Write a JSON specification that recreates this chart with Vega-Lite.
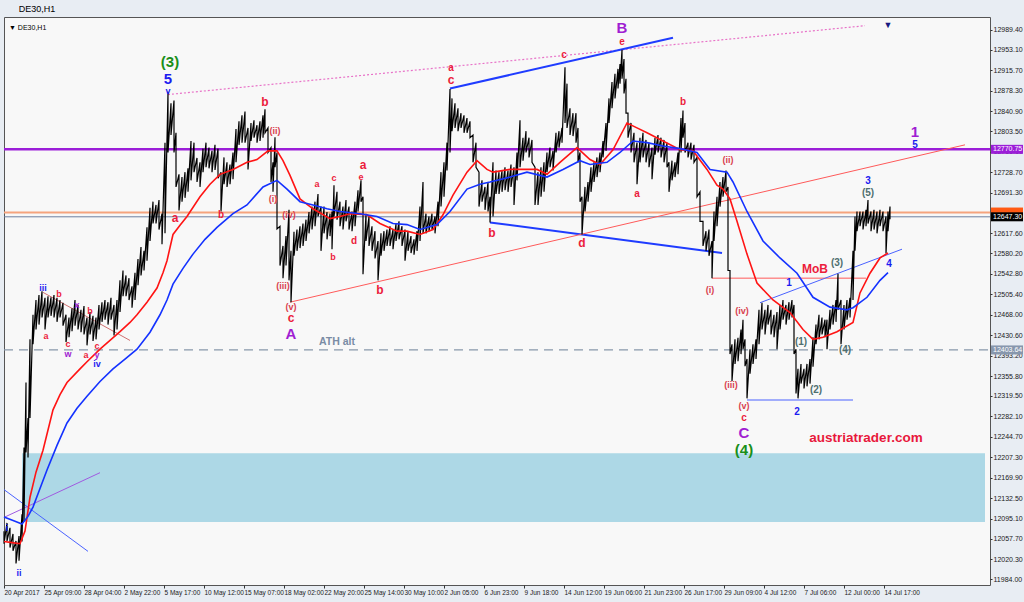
{
"$schema":"https://vega.github.io/schema/vega-lite/v6.json",
"width":986,"height":568,
"autosize":{"type":"none"},
"padding":{"left":4,"top":17,"right":34,"bottom":17},
"background":"#e8edf3",
"title":{"text":"DE30,H1","anchor":"start","dx":18,"offset":3,"fontSize":9,"font":"Liberation Sans","fontWeight":"normal","color":"#000000"},
"config":{"view":{"fill":"#f8f8f8","stroke":"#555555","strokeWidth":1},"axis":{"grid":false,"domain":false,"labelFont":"Liberation Sans","labelColor":"#1a1a1a","tickColor":"#333333"}},
"resolve":{"scale":{"color":"independent"}},
"datasets":{
"zone":[{"t":22,"t2":985,"p":12214.5,"p2":12088.6}],
"levels":[
{"kind":"ath","p":12403.64,"t":4,"t2":990},
{"kind":"res","p":12770.75,"t":4,"t2":990},
{"kind":"ask","p":12655,"t":4,"t2":990},
{"kind":"bid","p":12647.3,"t":4,"t2":990}],
"segs":[
{"kind":"dot","t":168,"p":12871,"t2":865,"p2":12997},
{"kind":"blueThick","t":450,"p":12882,"t2":673,"p2":12975},
{"kind":"blueThick","t":490,"p":12637,"t2":722,"p2":12581},
{"kind":"redThin","t":290,"p":12491,"t2":965,"p2":12779},
{"kind":"redThin","t":712,"p":12535,"t2":866,"p2":12535},
{"kind":"blueThin","t":760,"p":12490,"t2":902,"p2":12588},
{"kind":"blueThin","t":747,"p":12312,"t2":853,"p2":12312},
{"kind":"blueThin","t":4,"p":12148,"t2":88,"p2":12035},
{"kind":"purpleThin","t":5,"p":12098,"t2":100,"p2":12179},
{"kind":"brown","t":43,"p":12509,"t2":130,"p2":12421}],
"red":[{"t":4,"p":12053},{"t":12,"p":12051},{"t":20,"p":12049},{"t":25,"p":12072},{"t":30,"p":12134},{"t":36,"p":12180},{"t":43,"p":12220},{"t":53,"p":12294},{"t":60,"p":12322},{"t":67,"p":12344},{"t":80,"p":12369},{"t":87,"p":12382},{"t":100,"p":12405},{"t":110,"p":12421},{"t":120,"p":12437},{"t":130,"p":12454},{"t":137,"p":12468},{"t":147,"p":12491},{"t":157,"p":12517},{"t":163,"p":12545},{"t":167,"p":12567},{"t":173,"p":12615},{"t":180,"p":12632},{"t":187,"p":12648},{"t":200,"p":12684},{"t":210,"p":12707},{"t":220,"p":12725},{"t":233,"p":12734},{"t":247,"p":12747},{"t":257,"p":12752},{"t":268,"p":12768},{"t":277,"p":12768},{"t":283,"p":12750},{"t":290,"p":12723},{"t":300,"p":12680},{"t":313,"p":12662},{"t":330,"p":12644},{"t":340,"p":12648},{"t":350,"p":12653},{"t":367,"p":12651},{"t":380,"p":12635},{"t":397,"p":12621},{"t":407,"p":12621},{"t":420,"p":12615},{"t":433,"p":12624},{"t":443,"p":12651},{"t":453,"p":12687},{"t":467,"p":12729},{"t":477,"p":12750},{"t":487,"p":12734},{"t":493,"p":12729},{"t":510,"p":12734},{"t":527,"p":12734},{"t":537,"p":12734},{"t":547,"p":12725},{"t":560,"p":12747},{"t":577,"p":12774},{"t":590,"p":12752},{"t":600,"p":12743},{"t":613,"p":12770},{"t":627,"p":12819},{"t":637,"p":12810},{"t":647,"p":12801},{"t":663,"p":12786},{"t":680,"p":12770},{"t":693,"p":12768},{"t":707,"p":12734},{"t":717,"p":12705},{"t":723,"p":12698},{"t":730,"p":12680},{"t":737,"p":12639},{"t":747,"p":12579},{"t":757,"p":12526},{"t":773,"p":12495},{"t":790,"p":12472},{"t":803,"p":12441},{"t":813,"p":12423},{"t":823,"p":12427},{"t":837,"p":12437},{"t":853,"p":12454},{"t":860,"p":12508},{"t":870,"p":12544},{"t":880,"p":12572},{"t":888,"p":12581}],
"blue":[{"t":4,"p":12098},{"t":15,"p":12090},{"t":22,"p":12085},{"t":28,"p":12099},{"t":33,"p":12116},{"t":40,"p":12150},{"t":47,"p":12184},{"t":57,"p":12229},{"t":67,"p":12270},{"t":77,"p":12297},{"t":87,"p":12319},{"t":100,"p":12346},{"t":113,"p":12369},{"t":125,"p":12387},{"t":137,"p":12405},{"t":150,"p":12436},{"t":160,"p":12468},{"t":167,"p":12495},{"t":173,"p":12524},{"t":183,"p":12553},{"t":193,"p":12579},{"t":205,"p":12606},{"t":217,"p":12628},{"t":233,"p":12653},{"t":247,"p":12669},{"t":263,"p":12702},{"t":277,"p":12714},{"t":287,"p":12698},{"t":300,"p":12675},{"t":313,"p":12669},{"t":327,"p":12662},{"t":340,"p":12657},{"t":360,"p":12653},{"t":377,"p":12648},{"t":393,"p":12635},{"t":407,"p":12633},{"t":420,"p":12624},{"t":437,"p":12633},{"t":450,"p":12657},{"t":467,"p":12698},{"t":480,"p":12707},{"t":490,"p":12711},{"t":510,"p":12720},{"t":527,"p":12729},{"t":547,"p":12720},{"t":563,"p":12734},{"t":580,"p":12750},{"t":590,"p":12743},{"t":607,"p":12747},{"t":620,"p":12765},{"t":633,"p":12786},{"t":647,"p":12783},{"t":663,"p":12777},{"t":680,"p":12772},{"t":697,"p":12765},{"t":710,"p":12734},{"t":727,"p":12729},{"t":733,"p":12711},{"t":747,"p":12657},{"t":763,"p":12603},{"t":780,"p":12572},{"t":797,"p":12544},{"t":813,"p":12500},{"t":830,"p":12482},{"t":847,"p":12477},{"t":853,"p":12481},{"t":867,"p":12500},{"t":880,"p":12531},{"t":888,"p":12545}],
"bars":[
{"t":4,"h":12072,"l":12049},{"t":7,"h":12087,"l":12054},{"t":10,"h":12078,"l":12042},{"t":13,"h":12067,"l":12036},{"t":16,"h":12054,"l":12013},{"t":19,"h":12063,"l":12018},{"t":22,"h":12103,"l":12053},{"t":24,"h":12225,"l":12090},{"t":26,"h":12344,"l":12216},{"t":28,"h":12279,"l":12207},{"t":30,"h":12423,"l":12279},{"t":33,"h":12468,"l":12414},{"t":36,"h":12495,"l":12441},{"t":39,"h":12504,"l":12450},{"t":42,"h":12511,"l":12463},
{"t":45,"h":12499,"l":12441},{"t":48,"h":12502,"l":12463},{"t":51,"h":12500,"l":12466},{"t":54,"h":12504,"l":12463},{"t":57,"h":12499,"l":12455},{"t":60,"h":12495,"l":12463},{"t":63,"h":12490,"l":12448},{"t":66,"h":12468,"l":12418},{"t":69,"h":12463,"l":12427},{"t":72,"h":12480,"l":12438},{"t":75,"h":12495,"l":12448},{"t":78,"h":12486,"l":12441},{"t":81,"h":12477,"l":12436},{"t":84,"h":12484,"l":12432},{"t":87,"h":12463,"l":12412},{"t":90,"h":12473,"l":12432},{"t":93,"h":12466,"l":12420},{"t":96,"h":12463,"l":12423},{"t":99,"h":12486,"l":12441},{"t":102,"h":12491,"l":12455},{"t":105,"h":12495,"l":12459},{"t":108,"h":12491,"l":12450},{"t":111,"h":12499,"l":12459},{"t":114,"h":12486,"l":12430},{"t":117,"h":12495,"l":12441},
{"t":120,"h":12531,"l":12473},{"t":123,"h":12549,"l":12502},{"t":126,"h":12540,"l":12502},{"t":129,"h":12535,"l":12495},{"t":132,"h":12520,"l":12481},{"t":135,"h":12545,"l":12495},{"t":138,"h":12570,"l":12522},{"t":141,"h":12592,"l":12540},{"t":144,"h":12585,"l":12549},{"t":147,"h":12628,"l":12567},{"t":150,"h":12664,"l":12603},{"t":153,"h":12675,"l":12635},{"t":156,"h":12669,"l":12635},{"t":159,"h":12678,"l":12624},{"t":162,"h":12653,"l":12597},{"t":165,"h":12783,"l":12617},{"t":168,"h":12876,"l":12765},{"t":171,"h":12855,"l":12797},{"t":174,"h":12860,"l":12765},{"t":176,"h":12801,"l":12702},{"t":179,"h":12725,"l":12659},{"t":182,"h":12720,"l":12675},{"t":185,"h":12729,"l":12682},{"t":188,"h":12736,"l":12693},{"t":191,"h":12786,"l":12714},{"t":194,"h":12783,"l":12729},{"t":197,"h":12755,"l":12711},{"t":200,"h":12747,"l":12702},{"t":203,"h":12772,"l":12729},{"t":206,"h":12783,"l":12738},{"t":209,"h":12774,"l":12736},{"t":212,"h":12768,"l":12729},{"t":215,"h":12779,"l":12733},{"t":218,"h":12772,"l":12718},{"t":221,"h":12729,"l":12657},{"t":224,"h":12756,"l":12707},{"t":227,"h":12747,"l":12702},{"t":230,"h":12743,"l":12707},{"t":233,"h":12765,"l":12716},{"t":236,"h":12808,"l":12747},{"t":239,"h":12822,"l":12779},{"t":242,"h":12833,"l":12783},{"t":245,"h":12840,"l":12783},{"t":248,"h":12810,"l":12734},{"t":251,"h":12819,"l":12786},{"t":254,"h":12824,"l":12792},{"t":257,"h":12815,"l":12783},{"t":260,"h":12822,"l":12786},{"t":263,"h":12833,"l":12792},{"t":265,"h":12844,"l":12801},{"t":268,"h":12810,"l":12765},{"t":271,"h":12774,"l":12711},{"t":273,"h":12747,"l":12693},{"t":275,"h":12793,"l":12738},{"t":277,"h":12765,"l":12625},{"t":280,"h":12630,"l":12558},{"t":283,"h":12594,"l":12535},{"t":286,"h":12612,"l":12558},{"t":289,"h":12660,"l":12531},{"t":291,"h":12585,"l":12491},{"t":294,"h":12620,"l":12576},{"t":297,"h":12624,"l":12585},{"t":300,"h":12630,"l":12590},{"t":303,"h":12635,"l":12594},{"t":306,"h":12642,"l":12603},{"t":309,"h":12656,"l":12617},{"t":312,"h":12666,"l":12624},{"t":315,"h":12675,"l":12630},{"t":318,"h":12689,"l":12648},{"t":321,"h":12666,"l":12585},{"t":324,"h":12666,"l":12617},{"t":327,"h":12656,"l":12606},{"t":330,"h":12653,"l":12612},{"t":332,"h":12657,"l":12588},{"t":334,"h":12705,"l":12648},{"t":337,"h":12693,"l":12642},{"t":340,"h":12675,"l":12630},{"t":343,"h":12666,"l":12624},{"t":346,"h":12678,"l":12639},{"t":349,"h":12666,"l":12624},{"t":352,"h":12657,"l":12621},{"t":355,"h":12675,"l":12630},{"t":358,"h":12696,"l":12657},{"t":361,"h":12714,"l":12675},{"t":363,"h":12684,"l":12542},{"t":366,"h":12653,"l":12603},{"t":369,"h":12648,"l":12594},{"t":372,"h":12630,"l":12585},{"t":375,"h":12621,"l":12571},{"t":378,"h":12603,"l":12531},{"t":381,"h":12617,"l":12576},{"t":384,"h":12621,"l":12585},{"t":387,"h":12624,"l":12594},{"t":390,"h":12630,"l":12594},{"t":393,"h":12624,"l":12588},{"t":396,"h":12635,"l":12603},{"t":399,"h":12639,"l":12606},{"t":402,"h":12630,"l":12594},{"t":405,"h":12624,"l":12567},{"t":408,"h":12621,"l":12585},{"t":411,"h":12612,"l":12581},{"t":414,"h":12606,"l":12578},{"t":417,"h":12621,"l":12585},{"t":420,"h":12666,"l":12603},{"t":423,"h":12711,"l":12617},{"t":426,"h":12653,"l":12617},{"t":429,"h":12648,"l":12621},{"t":432,"h":12653,"l":12624},{"t":435,"h":12648,"l":12617},{"t":438,"h":12675,"l":12630},{"t":441,"h":12729,"l":12666},{"t":444,"h":12747,"l":12684},{"t":447,"h":12783,"l":12732},{"t":450,"h":12881,"l":12765},{"t":452,"h":12864,"l":12804},{"t":455,"h":12855,"l":12810},{"t":458,"h":12846,"l":12804},{"t":461,"h":12837,"l":12810},{"t":464,"h":12833,"l":12801},{"t":467,"h":12828,"l":12801},{"t":470,"h":12822,"l":12792},{"t":473,"h":12797,"l":12747},{"t":476,"h":12783,"l":12738},{"t":479,"h":12729,"l":12666},{"t":482,"h":12714,"l":12675},{"t":485,"h":12702,"l":12660},{"t":488,"h":12711,"l":12657},{"t":490,"h":12684,"l":12637},{"t":493,"h":12747,"l":12648},{"t":496,"h":12732,"l":12689},{"t":499,"h":12729,"l":12689},{"t":502,"h":12732,"l":12693},{"t":505,"h":12738,"l":12696},{"t":508,"h":12732,"l":12693},{"t":511,"h":12743,"l":12702},{"t":514,"h":12738,"l":12669},{"t":517,"h":12765,"l":12714},{"t":520,"h":12824,"l":12738},{"t":523,"h":12792,"l":12750},{"t":526,"h":12804,"l":12765},{"t":529,"h":12792,"l":12756},{"t":532,"h":12788,"l":12747},{"t":535,"h":12738,"l":12669},{"t":538,"h":12729,"l":12669},{"t":541,"h":12738,"l":12684},{"t":544,"h":12747,"l":12693},{"t":547,"h":12765,"l":12729},{"t":550,"h":12774,"l":12738},{"t":553,"h":12768,"l":12732},{"t":556,"h":12801,"l":12765},{"t":559,"h":12804,"l":12774},{"t":562,"h":12810,"l":12783},{"t":565,"h":12921,"l":12819},{"t":567,"h":12891,"l":12810},{"t":570,"h":12846,"l":12797},{"t":573,"h":12837,"l":12795},{"t":576,"h":12837,"l":12783},{"t":578,"h":12810,"l":12747},{"t":580,"h":12765,"l":12675},{"t":582,"h":12684,"l":12615},{"t":585,"h":12702,"l":12657},{"t":588,"h":12711,"l":12675},{"t":591,"h":12738,"l":12693},{"t":594,"h":12747,"l":12711},{"t":597,"h":12756,"l":12720},{"t":600,"h":12765,"l":12729},{"t":603,"h":12786,"l":12756},{"t":606,"h":12819,"l":12768},{"t":609,"h":12864,"l":12819},{"t":612,"h":12894,"l":12846},{"t":615,"h":12909,"l":12864},{"t":618,"h":12918,"l":12882},{"t":620,"h":12927,"l":12891},{"t":622,"h":12953,"l":12900},{"t":624,"h":12936,"l":12873},{"t":626,"h":12900,"l":12837},{"t":628,"h":12837,"l":12792},{"t":631,"h":12819,"l":12765},{"t":634,"h":12801,"l":12747},{"t":637,"h":12783,"l":12707},{"t":640,"h":12792,"l":12747},{"t":643,"h":12801,"l":12756},{"t":646,"h":12788,"l":12747},{"t":649,"h":12783,"l":12738},{"t":652,"h":12774,"l":12716},{"t":655,"h":12792,"l":12761},{"t":658,"h":12797,"l":12765},{"t":661,"h":12792,"l":12756},{"t":664,"h":12788,"l":12747},{"t":667,"h":12783,"l":12738},{"t":669,"h":12747,"l":12693},{"t":672,"h":12750,"l":12714},{"t":675,"h":12747,"l":12720},{"t":678,"h":12765,"l":12725},{"t":681,"h":12828,"l":12765},{"t":683,"h":12842,"l":12792},{"t":685,"h":12819,"l":12765},{"t":688,"h":12783,"l":12756},{"t":691,"h":12783,"l":12752},{"t":694,"h":12779,"l":12747},{"t":697,"h":12756,"l":12684},{"t":700,"h":12693,"l":12639},{"t":703,"h":12639,"l":12594},{"t":706,"h":12621,"l":12585},{"t":709,"h":12624,"l":12576},{"t":712,"h":12603,"l":12535},{"t":714,"h":12657,"l":12603},{"t":717,"h":12684,"l":12630},{"t":720,"h":12711,"l":12666},{"t":723,"h":12720,"l":12684},{"t":726,"h":12732,"l":12693},{"t":728,"h":12702,"l":12549},{"t":730,"h":12549,"l":12396},{"t":732,"h":12414,"l":12347},{"t":735,"h":12423,"l":12378},{"t":738,"h":12426,"l":12383},{"t":741,"h":12441,"l":12396},{"t":743,"h":12459,"l":12405},{"t":745,"h":12423,"l":12374},{"t":747,"h":12387,"l":12315},{"t":750,"h":12405,"l":12360},{"t":753,"h":12414,"l":12378},{"t":756,"h":12423,"l":12387},{"t":759,"h":12477,"l":12414},{"t":762,"h":12490,"l":12441},{"t":765,"h":12477,"l":12432},{"t":768,"h":12486,"l":12450},{"t":771,"h":12477,"l":12432},{"t":774,"h":12468,"l":12427},{"t":777,"h":12473,"l":12405},{"t":780,"h":12486,"l":12441},{"t":783,"h":12495,"l":12459},{"t":786,"h":12486,"l":12450},{"t":789,"h":12491,"l":12459},{"t":792,"h":12495,"l":12463},{"t":794,"h":12486,"l":12396},{"t":796,"h":12405,"l":12324},{"t":798,"h":12369,"l":12315},{"t":801,"h":12378,"l":12342},{"t":804,"h":12369,"l":12333},{"t":807,"h":12378,"l":12337},{"t":810,"h":12387,"l":12342},{"t":813,"h":12427,"l":12373},{"t":816,"h":12450,"l":12414},{"t":819,"h":12468,"l":12423},{"t":822,"h":12463,"l":12432},{"t":825,"h":12459,"l":12427},{"t":827,"h":12459,"l":12405},{"t":830,"h":12477,"l":12441},{"t":833,"h":12486,"l":12450},{"t":836,"h":12495,"l":12455},{"t":838,"h":12543,"l":12477},{"t":841,"h":12495,"l":12414},{"t":844,"h":12486,"l":12441},{"t":847,"h":12495,"l":12459},{"t":850,"h":12499,"l":12463},{"t":853,"h":12585,"l":12495},{"t":855,"h":12648,"l":12585},{"t":857,"h":12657,"l":12621},{"t":860,"h":12657,"l":12630},{"t":863,"h":12657,"l":12624},{"t":866,"h":12660,"l":12630},{"t":868,"h":12678,"l":12635},{"t":871,"h":12657,"l":12621},{"t":874,"h":12660,"l":12624},{"t":877,"h":12657,"l":12617},{"t":880,"h":12660,"l":12630},{"t":883,"h":12657,"l":12621},{"t":886,"h":12648,"l":12580},{"t":888,"h":12657,"l":12621},{"t":890,"h":12666,"l":12643}],
"labels":[
{"t":170,"p":12931,"txt":"(3)","deg":"P","cls":"L"},
{"t":168,"p":12900,"txt":"5","deg":"Mi","cls":"L"},
{"t":168,"p":12878,"txt":"v","deg":"Mi","cls":"XS"},
{"t":265,"p":12858,"txt":"b","deg":"m","cls":"M"},
{"t":275,"p":12804,"txt":"(ii)","deg":"n","cls":"XS"},
{"t":273,"p":12680,"txt":"(i)","deg":"n","cls":"XS"},
{"t":289,"p":12651,"txt":"(iv)","deg":"n","cls":"XS"},
{"t":283,"p":12520,"txt":"(iii)","deg":"n","cls":"XS"},
{"t":291,"p":12482,"txt":"(v)","deg":"n","cls":"XS"},
{"t":291,"p":12462,"txt":"c","deg":"m","cls":"M"},
{"t":291,"p":12433,"txt":"A","deg":"I","cls":"L"},
{"t":175,"p":12646,"txt":"a","deg":"m","cls":"M"},
{"t":221,"p":12651,"txt":"b","deg":"m","cls":"S"},
{"t":317,"p":12707,"txt":"a","deg":"m","cls":"XS"},
{"t":334,"p":12718,"txt":"c","deg":"m","cls":"XS"},
{"t":361,"p":12720,"txt":"e","deg":"m","cls":"XS"},
{"t":363,"p":12743,"txt":"a","deg":"m","cls":"M"},
{"t":333,"p":12574,"txt":"b","deg":"m","cls":"XS"},
{"t":354,"p":12603,"txt":"d","deg":"m","cls":"S"},
{"t":380,"p":12513,"txt":"b","deg":"m","cls":"M"},
{"t":451,"p":12920,"txt":"a","deg":"m","cls":"S"},
{"t":451,"p":12898,"txt":"c","deg":"m","cls":"M"},
{"t":492,"p":12617,"txt":"b","deg":"m","cls":"M"},
{"t":564,"p":12943,"txt":"c","deg":"m","cls":"S"},
{"t":622,"p":12968,"txt":"e","deg":"m","cls":"S"},
{"t":622,"p":12992,"txt":"B","deg":"I","cls":"L"},
{"t":582,"p":12599,"txt":"d","deg":"m","cls":"M"},
{"t":637,"p":12689,"txt":"a","deg":"m","cls":"S"},
{"t":683,"p":12858,"txt":"b","deg":"m","cls":"S"},
{"t":728,"p":12752,"txt":"(ii)","deg":"n","cls":"XS"},
{"t":710,"p":12513,"txt":"(i)","deg":"n","cls":"XS"},
{"t":742,"p":12475,"txt":"(iv)","deg":"n","cls":"XS"},
{"t":731,"p":12339,"txt":"(iii)","deg":"n","cls":"XS"},
{"t":744,"p":12301,"txt":"(v)","deg":"n","cls":"XS"},
{"t":744,"p":12279,"txt":"c","deg":"m","cls":"S"},
{"t":744,"p":12251,"txt":"C","deg":"I","cls":"L"},
{"t":744,"p":12221,"txt":"(4)","deg":"P","cls":"L"},
{"t":789,"p":12526,"txt":"1","deg":"Mi","cls":"S"},
{"t":797,"p":12290,"txt":"2","deg":"Mi","cls":"S"},
{"t":868,"p":12713,"txt":"3","deg":"Mi","cls":"S"},
{"t":889,"p":12560,"txt":"4","deg":"Mi","cls":"S"},
{"t":801,"p":12418,"txt":"(1)","deg":"s","cls":"S"},
{"t":816,"p":12330,"txt":"(2)","deg":"s","cls":"S"},
{"t":837,"p":12563,"txt":"(3)","deg":"s","cls":"S"},
{"t":845,"p":12403,"txt":"(4)","deg":"s","cls":"S"},
{"t":868,"p":12691,"txt":"(5)","deg":"s","cls":"S"},
{"t":815,"p":12551,"txt":"MoB","deg":"m","cls":"M"},
{"t":915,"p":12803,"txt":"1","deg":"I","cls":"L"},
{"t":915,"p":12779,"txt":"5","deg":"Mi","cls":"S"},
{"t":866,"p":12243,"txt":"austriatrader.com","deg":"w","cls":"XL"},
{"t":337,"p":12418,"txt":"ATH alt","deg":"t","cls":"AL"},
{"t":43,"p":12517,"txt":"iii","deg":"Mi","cls":"XS"},
{"t":59,"p":12506,"txt":"b","deg":"m","cls":"XS"},
{"t":77,"p":12486,"txt":"x","deg":"I","cls":"XS"},
{"t":90,"p":12475,"txt":"b","deg":"m","cls":"XS"},
{"t":46,"p":12429,"txt":"a","deg":"m","cls":"XS"},
{"t":68,"p":12414,"txt":"c","deg":"m","cls":"XS"},
{"t":68,"p":12397,"txt":"w","deg":"I","cls":"XS"},
{"t":86,"p":12395,"txt":"a","deg":"m","cls":"XS"},
{"t":97,"p":12411,"txt":"c","deg":"m","cls":"XS"},
{"t":97,"p":12394,"txt":"y","deg":"I","cls":"XS"},
{"t":97,"p":12377,"txt":"iv","deg":"Mi","cls":"XS"},
{"t":7,"p":12078,"txt":"i","deg":"Mi","cls":"XS"},
{"t":19,"p":11995,"txt":"ii","deg":"Mi","cls":"XS"},
{"t":888,"p":12998,"txt":"▼","deg":"nv","cls":"XS"},
{"t":9,"p":12993,"txt":"▼ DE30,H1","deg":"k","cls":"K"}],
"tags":[
{"kind":"res","p":12770.75,"txt":"12770.75","t":991,"t2":1023},
{"kind":"ask","p":12656,"txt":"","t":991,"t2":1023},
{"kind":"bid","p":12647.3,"txt":"12647.30","t":991,"t2":1023},
{"kind":"ath","p":12403.64,"txt":"12403.64","t":991,"t2":1023}]
},
"encoding":{
"x":{"field":"t","type":"quantitative","scale":{"domain":[4,990],"nice":false,"zero":false},
"axis":{"title":null,"orient":"bottom","values":[4,44,84,124,164,204,244,284,324,364,404,444,484,524,564,604,644,684,724,764,804,844,884],
"labelExpr":"['20 Apr 2017','25 Apr 09:00','28 Apr 04:00','2 May 22:00','5 May 17:00','10 May 12:00','15 May 07:00','18 May 02:00','22 May 20:00','25 May 14:00','30 May 10:00','2 Jun 05:00','6 Jun 23:00','9 Jun 18:00','14 Jun 12:00','19 Jun 06:00','21 Jun 23:00','26 Jun 17:00','29 Jun 09:00','4 Jul 12:00','7 Jul 06:00','12 Jul 00:00','14 Jul 17:00'][round((datum.value-4)/40)]",
"labelAlign":"left","labelFontSize":6.5,"tickSize":3,"labelPadding":1,"labelFlush":false,"labelOverlap":false}},
"y":{"field":"p","type":"quantitative","scale":{"domain":[11982.6,13003.8],"nice":false,"zero":false},
"axis":{"title":null,"orient":"right","values":[12989.4,12953.1,12915.7,12878.3,12840.9,12803.5,12766.1,12728.7,12691.3,12617.6,12580.2,12542.8,12505.4,12468.0,12430.6,12393.2,12355.8,12319.5,12282.1,12244.7,12207.3,12169.9,12132.5,12095.1,12057.7,12020.3,11984.0],
"format":".2f","labelFontSize":7,"tickSize":2,"labelPadding":1,"labelOverlap":false,"labelFlush":false}}
},
"layer":[
{"data":{"name":"zone"},"mark":{"type":"rect","color":"#add8e6"},"encoding":{"x2":{"field":"t2"},"y2":{"field":"p2"}}},
{"data":{"name":"levels"},"transform":[{"filter":"datum.kind=='ath'"}],"mark":{"type":"rule","color":"#8898aa","strokeWidth":1.2,"strokeDash":[9,6]},"encoding":{"x2":{"field":"t2"}}},
{"data":{"name":"levels"},"transform":[{"filter":"datum.kind=='res'"}],"mark":{"type":"rule","color":"#9b1ed8","strokeWidth":2.5},"encoding":{"x2":{"field":"t2"}}},
{"data":{"name":"levels"},"transform":[{"filter":"datum.kind=='ask'"}],"mark":{"type":"rule","color":"#f5a47e","strokeWidth":2},"encoding":{"x2":{"field":"t2"}}},
{"data":{"name":"levels"},"transform":[{"filter":"datum.kind=='bid'"}],"mark":{"type":"rule","color":"#6d7fa0","strokeWidth":1},"encoding":{"x2":{"field":"t2"}}},
{"data":{"name":"segs"},"transform":[{"filter":"datum.kind=='dot'"}],"mark":{"type":"rule","color":"#e873c8","strokeWidth":1.2,"strokeDash":[2,2]},"encoding":{"x2":{"field":"t2"},"y2":{"field":"p2"}}},
{"data":{"name":"segs"},"transform":[{"filter":"datum.kind=='blueThick'"}],"mark":{"type":"rule","color":"#1f3cff","strokeWidth":2},"encoding":{"x2":{"field":"t2"},"y2":{"field":"p2"}}},
{"data":{"name":"segs"},"transform":[{"filter":"datum.kind=='redThin'"}],"mark":{"type":"rule","color":"#ff5a5a","strokeWidth":1},"encoding":{"x2":{"field":"t2"},"y2":{"field":"p2"}}},
{"data":{"name":"segs"},"transform":[{"filter":"datum.kind=='blueThin'"}],"mark":{"type":"rule","color":"#4a62ff","strokeWidth":1},"encoding":{"x2":{"field":"t2"},"y2":{"field":"p2"}}},
{"data":{"name":"segs"},"transform":[{"filter":"datum.kind=='purpleThin'"}],"mark":{"type":"rule","color":"#a05ae0","strokeWidth":1},"encoding":{"x2":{"field":"t2"},"y2":{"field":"p2"}}},
{"data":{"name":"segs"},"transform":[{"filter":"datum.kind=='brown'"}],"mark":{"type":"rule","color":"#d07070","strokeWidth":1},"encoding":{"x2":{"field":"t2"},"y2":{"field":"p2"}}},
{"data":{"name":"bars"},"transform":[{"fold":["h","l"],"as":["k","p"]}],"mark":{"type":"line","color":"#000000","strokeWidth":1.2},"encoding":{"order":{"value":null}}},
{"data":{"name":"red"},"mark":{"type":"line","color":"#ff1414","strokeWidth":1.6},"encoding":{}},
{"data":{"name":"blue"},"mark":{"type":"line","color":"#1432ff","strokeWidth":1.6},"encoding":{}},
{"data":{"name":"labels"},"transform":[{"filter":"datum.cls=='XL'"}],"mark":{"type":"text","font":"Liberation Sans","fontWeight":"bold","baseline":"middle","align":"center","fontSize":13.5},
"encoding":{"text":{"field":"txt"},"color":{"field":"deg","type":"nominal","legend":null,"scale":{"domain":["P","I","Mi","m","n","s","t","w","nv","k"],"range":["#1a8f1a","#a01ed2","#1c1cf0","#ec1c3c","#d9404e","#4f6f6f","#7a8ca5","#e8183c","#1a1a80","#000000"]}}}},
{"data":{"name":"labels"},"transform":[{"filter":"datum.cls=='L'"}],"mark":{"type":"text","font":"Liberation Sans","fontWeight":"bold","baseline":"middle","align":"center","fontSize":15},
"encoding":{"text":{"field":"txt"},"color":{"field":"deg","type":"nominal","legend":null,"scale":{"domain":["P","I","Mi","m","n","s","t","w","nv","k"],"range":["#1a8f1a","#a01ed2","#1c1cf0","#ec1c3c","#d9404e","#4f6f6f","#7a8ca5","#e8183c","#1a1a80","#000000"]}}}},
{"data":{"name":"labels"},"transform":[{"filter":"datum.cls=='M'"}],"mark":{"type":"text","font":"Liberation Sans","fontWeight":"bold","baseline":"middle","align":"center","fontSize":12},
"encoding":{"text":{"field":"txt"},"color":{"field":"deg","type":"nominal","legend":null,"scale":{"domain":["P","I","Mi","m","n","s","t","w","nv","k"],"range":["#1a8f1a","#a01ed2","#1c1cf0","#ec1c3c","#d9404e","#4f6f6f","#7a8ca5","#e8183c","#1a1a80","#000000"]}}}},
{"data":{"name":"labels"},"transform":[{"filter":"datum.cls=='AL'"}],"mark":{"type":"text","font":"Liberation Sans","fontWeight":"bold","baseline":"middle","align":"center","fontSize":10.5},
"encoding":{"text":{"field":"txt"},"color":{"field":"deg","type":"nominal","legend":null,"scale":{"domain":["P","I","Mi","m","n","s","t","w","nv","k"],"range":["#1a8f1a","#a01ed2","#1c1cf0","#ec1c3c","#d9404e","#4f6f6f","#7a8ca5","#e8183c","#1a1a80","#000000"]}}}},
{"data":{"name":"labels"},"transform":[{"filter":"datum.cls=='S'"}],"mark":{"type":"text","font":"Liberation Sans","fontWeight":"bold","baseline":"middle","align":"center","fontSize":10},
"encoding":{"text":{"field":"txt"},"color":{"field":"deg","type":"nominal","legend":null,"scale":{"domain":["P","I","Mi","m","n","s","t","w","nv","k"],"range":["#1a8f1a","#a01ed2","#1c1cf0","#ec1c3c","#d9404e","#4f6f6f","#7a8ca5","#e8183c","#1a1a80","#000000"]}}}},
{"data":{"name":"labels"},"transform":[{"filter":"datum.cls=='XS'"}],"mark":{"type":"text","font":"Liberation Sans","fontWeight":"bold","baseline":"middle","align":"center","fontSize":9},
"encoding":{"text":{"field":"txt"},"color":{"field":"deg","type":"nominal","legend":null,"scale":{"domain":["P","I","Mi","m","n","s","t","w","nv","k"],"range":["#1a8f1a","#a01ed2","#1c1cf0","#ec1c3c","#d9404e","#4f6f6f","#7a8ca5","#e8183c","#1a1a80","#000000"]}}}},
{"data":{"name":"labels"},"transform":[{"filter":"datum.cls=='K'"}],"mark":{"type":"text","font":"Liberation Sans","fontWeight":"normal","baseline":"middle","align":"left","fontSize":7,"color":"#000000"},
"encoding":{"text":{"field":"txt"}}},
{"data":{"name":"tags"},"mark":{"type":"bar","orient":"horizontal","height":9,"clip":false},
"encoding":{"x2":{"field":"t2"},"color":{"field":"kind","type":"nominal","legend":null,"scale":{"domain":["res","ask","bid","ath"],"range":["#9b1ed8","#ff5a14","#000000","#8797ad"]}}}},
{"data":{"name":"tags"},"mark":{"type":"text","font":"Liberation Sans","fontSize":7,"color":"#ffffff","align":"left","baseline":"middle","dx":2,"clip":false},
"encoding":{"text":{"field":"txt"}}}
]
}
